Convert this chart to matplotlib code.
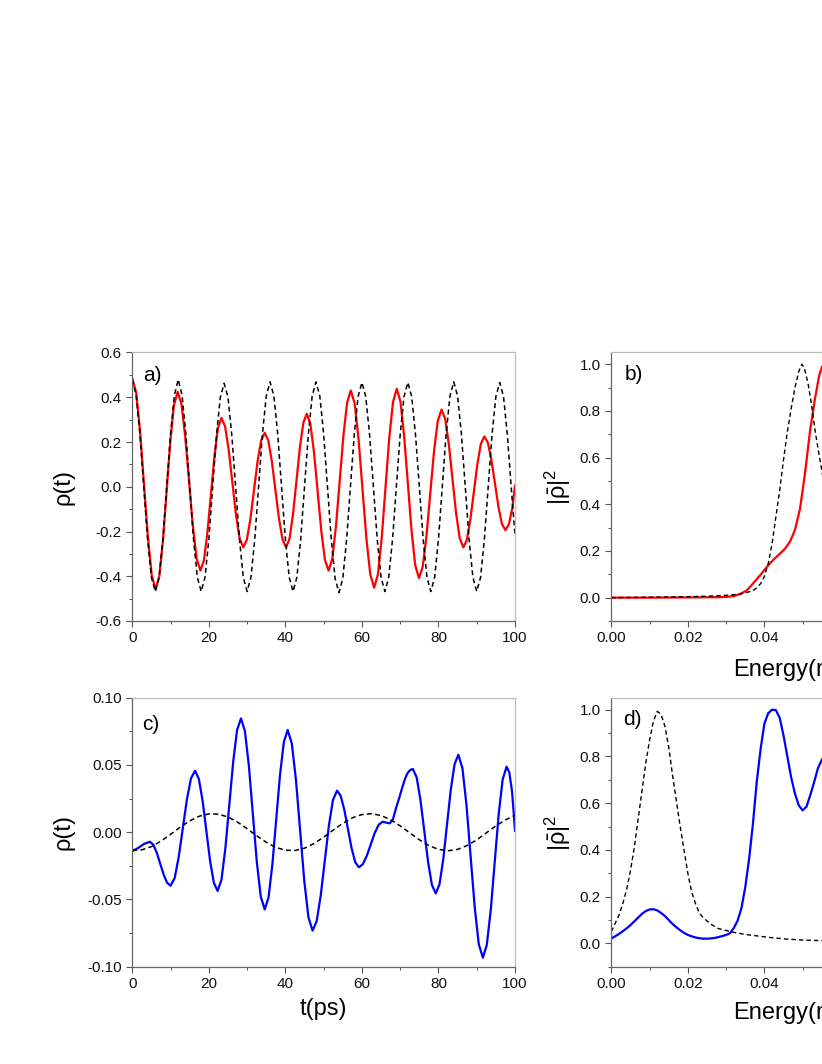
import matplotlib
matplotlib.use("Agg")
import matplotlib.pyplot as plt
import numpy as np
from matplotlib.ticker import MultipleLocator, FormatStrFormatter

plt.rcParams['font.family'] = ['Liberation Sans', 'DejaVu Sans']
plt.rcParams['mathtext.fontset'] = 'custom'
plt.rcParams['mathtext.rm'] = 'Liberation Sans'
plt.rcParams['mathtext.it'] = 'Liberation Sans'
plt.rcParams['mathtext.default'] = 'rm'
plt.rcParams['axes.unicode_minus'] = False

# ---- panel a: rho(t), red solid + black dashed reference ----
t_red_a = [0, 1.02, 2.03, 3.05, 4.07, 5.08,
           6.1, 7.06, 8.02, 8.98, 9.93, 10.89,
           11.85, 12.84, 13.83, 14.83, 15.82, 16.81,
           17.8, 18.72, 19.63, 20.55, 21.47, 22.38,
           23.3, 24.25, 25.2, 26.15, 27.1, 28.05,
           29.0, 29.93, 30.87, 31.8, 32.73, 33.67,
           34.6, 35.53, 36.47, 37.4, 38.33, 39.27,
           40.2, 41.1, 42.0, 42.9, 43.8, 44.7,
           45.6, 46.55, 47.5, 48.45, 49.4, 50.35,
           51.3, 52.27, 53.23, 54.2, 55.17, 56.13,
           57.1, 58.12, 59.13, 60.15, 61.17, 62.18,
           63.2, 64.18, 65.17, 66.15, 67.13, 68.12,
           69.1, 70.07, 71.03, 72.0, 72.97, 73.93,
           74.9, 75.88, 76.87, 77.85, 78.83, 79.82,
           80.8, 81.75, 82.7, 83.65, 84.6, 85.55,
           86.5, 87.42, 88.33, 89.25, 90.17, 91.08,
           92.0, 92.92, 93.83, 94.75, 95.67, 96.58,
           97.5, 98.4, 99.3, 100]
rho_red_a = [0.484, 0.421, 0.248, 0.0125, -0.223, -0.396,
             -0.459, -0.400, -0.238, -0.0175, 0.203, 0.365,
             0.424, 0.370, 0.224, 0.0245, -0.175, -0.3215,
             -0.375, -0.329, -0.204, -0.0335, 0.137, 0.262,
             0.308, 0.269, 0.163, 0.0185, -0.126, -0.232,
             -0.271, -0.237, -0.143, -0.015, 0.113, 0.207,
             0.241, 0.207, 0.113, -0.015, -0.143, -0.237,
             -0.271, -0.231, -0.122, 0.0275, 0.177, 0.286,
             0.326, 0.279, 0.151, -0.0245, -0.200, -0.328,
             -0.375, -0.321, -0.174, 0.0275, 0.229, 0.376,
             0.430, 0.371, 0.210, -0.0105, -0.231, -0.392,
             -0.451, -0.391, -0.229, -0.0065, 0.216, 0.378,
             0.438, 0.381, 0.2265, 0.015, -0.1965, -0.351,
             -0.408, -0.3575, -0.220, -0.0315, 0.157, 0.2945,
             0.345, 0.304, 0.191, 0.037, -0.117, -0.230,
             -0.271, -0.238, -0.147, -0.023, 0.101, 0.192,
             0.225, 0.197, 0.120, 0.0155, -0.089, -0.166,
             -0.194, -0.168, -0.095, 0.005]

t_dash_a = np.arange(0, 101)
rho_dash_a = [0.48, 0.41, 0.235, 0.0, -0.235, -0.405, -0.468, -0.405, -0.235, 0.0, 0.235, 0.41,
              0.479, 0.41, 0.235, 0.0, -0.235, -0.405, -0.468, -0.405, -0.235, 0.0, 0.23, 0.40,
              0.462, 0.40, 0.23, 0.0, -0.235, -0.405, -0.468, -0.405, -0.235, 0.0, 0.235, 0.405,
              0.469, 0.405, 0.235, 0.0, -0.235, -0.405, -0.468, -0.405, -0.235, 0.0, 0.235, 0.405,
              0.469, 0.405, 0.235, 0.0, -0.236, -0.41, -0.473, -0.41, -0.236, 0.0, 0.233, 0.403,
              0.466, 0.403, 0.233, 0.0, -0.235, -0.405, -0.468, -0.405, -0.235, 0.0, 0.233, 0.403,
              0.466, 0.403, 0.233, 0.0, -0.235, -0.405, -0.468, -0.405, -0.235, 0.0, 0.235, 0.405,
              0.469, 0.405, 0.235, 0.0, -0.235, -0.405, -0.468, -0.405, -0.235, 0.0, 0.233, 0.403,
              0.466, 0.403, 0.233, 0.0, -0.215]

# ---- panel b: |rho|^2 vs energy ----
e_red_b = [0.0, 0.010, 0.020, 0.028, 0.030, 0.032, 0.0336, 0.0354, 0.037, 0.0389,
           0.0406, 0.0424, 0.0441, 0.0454, 0.0467, 0.048, 0.0493, 0.0506, 0.0519,
           0.0532, 0.0543, 0.0551, 0.0558, 0.057]
p_red_b = [0.0, 0.0, 0.001, 0.002, 0.003, 0.007, 0.015, 0.031, 0.06, 0.096,
           0.131, 0.163, 0.189, 0.21, 0.24, 0.29, 0.38, 0.53, 0.71,
           0.85, 0.95, 0.99, 1.0, 0.99]
e_dash_b = [0.0, 0.010, 0.020, 0.025, 0.030, 0.033, 0.035, 0.037, 0.038, 0.039,
            0.040, 0.041, 0.042, 0.043, 0.044, 0.045, 0.046, 0.047, 0.048, 0.049,
            0.0498, 0.0505, 0.0515, 0.0524, 0.0533, 0.0541, 0.055, 0.0558]
p_dash_b = [0.0, 0.002, 0.004, 0.006, 0.010, 0.014, 0.020, 0.030, 0.042, 0.060,
            0.090, 0.146, 0.23, 0.345, 0.46, 0.59, 0.71, 0.81, 0.90, 0.97,
            1.0, 0.98, 0.91, 0.817, 0.71, 0.631, 0.546, 0.46]

# ---- panel c: rho(t), blue solid + black dashed ----
t_blue_c = [0, 1.5, 3.0,
            4.6, 5.5, 6.4, 7.3, 8.2, 9.1,
            10.0, 11.07, 12.13, 13.2, 14.27, 15.33,
            16.4, 17.38, 18.37, 19.35, 20.33, 21.32,
            22.3, 23.32, 24.33, 25.35, 26.37, 27.38,
            28.4, 29.43, 30.47, 31.5, 32.53, 33.57,
            34.6, 35.6, 36.6, 37.6, 38.6, 39.6,
            40.6, 41.68, 42.77, 43.85, 44.93, 46.02,
            47.1, 48.17, 49.23, 50.3, 51.37, 52.43,
            53.5, 54.45, 55.4, 56.35, 57.3, 58.25,
            59.2, 60.23, 61.27, 62.3, 63.33, 64.37,
            65.4, 66.4,
            67.3, 68.1, 68.9, 69.8, 70.6, 71.3, 71.9, 72.6,
            73.3, 74.3, 75.3, 76.3, 77.3, 78.3,
            79.3, 80.28, 81.27, 82.25, 83.23, 84.22,
            85.2, 86.27, 87.33, 88.4, 89.47, 90.53,
            91.6, 92.63, 93.67, 94.7, 95.73, 96.77,
            97.8, 98.5, 99.2, 99.7, 100]
rho_blue_c = [-0.014, -0.0118, -0.0088,
              -0.0071, -0.0093, -0.0153, -0.0235, -0.0316, -0.0376,
              -0.0398, -0.0341, -0.0184, 0.0030, 0.0243, 0.0400,
              0.0457, 0.0397, 0.0234, 0.0010, -0.0214, -0.0377,
              -0.0437, -0.0351, -0.0116, 0.0205, 0.0525, 0.0760,
              0.0846, 0.0751, 0.0491, 0.0136, -0.0219, -0.0479,
              -0.0574, -0.0485, -0.0240, 0.0093, 0.0427, 0.0671,
              0.0760, 0.0660, 0.0387, 0.0014, -0.0359, -0.0632,
              -0.0732, -0.0662, -0.0472, -0.0212, 0.0049, 0.0239,
              0.0309, 0.0271, 0.0167, 0.0024, -0.0119, -0.0223,
              -0.0261, -0.0238, -0.0176, -0.0092, -0.0007, 0.0055,
              0.0078, 0.0071,
              0.0066, 0.0095, 0.0178, 0.0260, 0.0338, 0.0400, 0.0438, 0.0462,
              0.0470, 0.0408, 0.0239, 0.0008, -0.0224, -0.0393,
              -0.0455, -0.0386, -0.0197, 0.0061, 0.0318, 0.0507,
              0.0576, 0.0475, 0.0199, -0.0179, -0.0556, -0.0832,
              -0.0933, -0.0838, -0.0578, -0.0223, 0.0132, 0.0392,
              0.0487, 0.0445, 0.031, 0.013, 0.001]

t_dash_c = np.arange(0, 100.1, 2.5)
rho_dash_c = [-0.0136, -0.0131, -0.0107, -0.0066, -0.0016, 0.0037, 0.0084, 0.0119,
              0.0136, 0.0134, 0.0113, 0.0075, 0.0026, -0.0026, -0.0075, -0.0113,
              -0.0134, -0.0136, -0.0119, -0.0084, -0.0037, 0.0016, 0.0066, 0.0107,
              0.0131, 0.0138, 0.0124, 0.0092, 0.0047, -0.0005, -0.0056, -0.0099,
              -0.0128, -0.0138, -0.0128, -0.0099, -0.0057, -0.0005, 0.0047, 0.0092,
              0.0124]

# ---- panel d: |rho|^2 vs energy ----
e_blue_d = [0.000, 0.001, 0.002, 0.003, 0.004, 0.005, 0.006, 0.007, 0.008, 0.009,
            0.010, 0.011, 0.012, 0.013, 0.014, 0.015, 0.016, 0.017, 0.018, 0.019,
            0.020, 0.021, 0.022, 0.023, 0.024, 0.025, 0.026, 0.027, 0.028, 0.029,
            0.030, 0.031, 0.032, 0.033, 0.034, 0.035, 0.036, 0.037, 0.038, 0.039,
            0.040, 0.041, 0.042, 0.043, 0.044, 0.045, 0.046, 0.047, 0.048, 0.049,
            0.050, 0.051, 0.052, 0.053, 0.054, 0.055, 0.056]
p_blue_d = [0.021, 0.030, 0.040, 0.052, 0.064, 0.078, 0.094, 0.110, 0.126, 0.138,
            0.145, 0.146, 0.141, 0.130, 0.117, 0.100, 0.083, 0.069, 0.056, 0.045,
            0.036, 0.030, 0.025, 0.022, 0.020, 0.020, 0.021, 0.023, 0.027, 0.031,
            0.036, 0.043, 0.065, 0.097, 0.15, 0.24, 0.36, 0.51, 0.69, 0.83,
            0.94, 0.985, 1.0, 0.998, 0.965, 0.89, 0.80, 0.71, 0.64, 0.59,
            0.569, 0.585, 0.635, 0.69, 0.75, 0.785, 0.81]
e_dash_d = [0.000, 0.001, 0.002, 0.003, 0.004, 0.005, 0.006, 0.007, 0.008, 0.009,
            0.010, 0.011, 0.012, 0.013, 0.014, 0.015, 0.016, 0.017, 0.018, 0.019,
            0.020, 0.021, 0.022, 0.023, 0.024, 0.026, 0.028, 0.030, 0.032, 0.035,
            0.038, 0.042, 0.046, 0.050, 0.056]
p_dash_d = [0.05, 0.085, 0.12, 0.17, 0.23, 0.31, 0.41, 0.53, 0.65, 0.77,
            0.87, 0.95, 0.993, 0.98, 0.93, 0.84, 0.72, 0.61, 0.50, 0.40,
            0.30, 0.22, 0.17, 0.13, 0.11, 0.082, 0.063, 0.055, 0.047, 0.038,
            0.032, 0.024, 0.018, 0.014, 0.011]

W, H = 822, 1064
fig = plt.figure(figsize=(W / 100, H / 100), dpi=100)


def make_ax(x0, top, bottom, width=382.7):
    # right-hand panels run past the figure edge, as in the cropped original
    return fig.add_axes([x0 / W, 1 - bottom / H, width / W, (bottom - top) / H])


ax_a = make_ax(132.3, 352.5, 621.0)
ax_b = make_ax(611.3, 352.5, 621.0)
ax_c = make_ax(132.3, 697.7, 966.7)
ax_d = make_ax(611.3, 698.0, 966.7)

dash = (0, (3.2, 2.2))

ax_a.plot(t_red_a, rho_red_a, color='#ff0000', lw=1.6)
ax_a.plot(t_dash_a, rho_dash_a, color='black', lw=1.1, ls=dash)
ax_b.plot(e_red_b, p_red_b, color='#ff0000', lw=1.6)
ax_b.plot(e_dash_b, p_dash_b, color='black', lw=1.0, ls=dash)
ax_c.plot(t_blue_c, rho_blue_c, color='#0000ff', lw=1.6)
ax_c.plot(t_dash_c, rho_dash_c, color='black', lw=1.1, ls=dash)
ax_d.plot(e_blue_d, p_blue_d, color='#0000ff', lw=1.6)
ax_d.plot(e_dash_d, p_dash_d, color='black', lw=1.0, ls=dash)

for ax in (ax_a, ax_c):
    ax.set_xlim(0, 100)
    ax.xaxis.set_major_locator(MultipleLocator(20))
    ax.xaxis.set_minor_locator(MultipleLocator(10))
ax_a.set_ylim(-0.6, 0.6)
ax_a.yaxis.set_major_locator(MultipleLocator(0.2))
ax_a.yaxis.set_minor_locator(MultipleLocator(0.1))
ax_a.yaxis.set_major_formatter(FormatStrFormatter('%.1f'))
ax_c.set_ylim(-0.1, 0.1)
ax_c.yaxis.set_major_locator(MultipleLocator(0.05))
ax_c.yaxis.set_minor_locator(MultipleLocator(0.025))
ax_c.yaxis.set_major_formatter(FormatStrFormatter('%.2f'))

for ax in (ax_b, ax_d):
    ax.set_xlim(0, 0.1)
    ax.set_ylim(-0.1, 1.05)
    ax.xaxis.set_major_locator(MultipleLocator(0.02))
    ax.xaxis.set_minor_locator(MultipleLocator(0.01))
    ax.xaxis.set_major_formatter(FormatStrFormatter('%.2f'))
    ax.yaxis.set_major_locator(MultipleLocator(0.2))
    ax.yaxis.set_minor_locator(MultipleLocator(0.1))
    ax.yaxis.set_major_formatter(FormatStrFormatter('%.1f'))

for ax in (ax_a, ax_b, ax_c, ax_d):
    ax.tick_params(which='both', direction='out', top=False, right=False,
                   color='#555555', labelsize=11, labelcolor='#111111')
    ax.tick_params(which='major', length=4.5, width=0.8, pad=3)
    ax.tick_params(which='minor', length=2.5, width=0.7)
    ax.spines['left'].set_color('#666666')
    ax.spines['bottom'].set_color('#666666')
    ax.spines['top'].set_color('#bbbbbb')
    ax.spines['right'].set_color('#bbbbbb')
    for s in ax.spines.values():
        s.set_linewidth(0.9)

ax_a.set_ylabel('ρ(t)', fontsize=17)
ax_c.set_ylabel('ρ(t)', fontsize=17)
ax_b.set_ylabel(r'$|\bar{\rho}|^2$', fontsize=17)
ax_d.set_ylabel(r'$|\bar{\rho}|^2$', fontsize=17)
ax_a.yaxis.set_label_coords(-0.150, 0.5)
ax_c.yaxis.set_label_coords(-0.150, 0.5)
ax_b.yaxis.set_label_coords(-0.100, 0.5)
ax_d.yaxis.set_label_coords(-0.100, 0.5)

ax_c.set_xlabel('t(ps)', fontsize=17)
ax_b.set_xlabel('Energy(meV)', fontsize=17)
ax_d.set_xlabel('Energy(meV)', fontsize=17)
ax_c.xaxis.set_label_coords(0.5, -0.115)
ax_b.xaxis.set_label_coords(0.5, -0.14)
ax_d.xaxis.set_label_coords(0.5, -0.13)

ax_a.text(0.029, 0.95, 'a)', transform=ax_a.transAxes, fontsize=15, va='top')
ax_b.text(0.036, 0.954, 'b)', transform=ax_b.transAxes, fontsize=15, va='top')
ax_c.text(0.026, 0.936, 'c)', transform=ax_c.transAxes, fontsize=15, va='top')
ax_d.text(0.031, 0.954, 'd)', transform=ax_d.transAxes, fontsize=15, va='top')

fig.savefig('out.png', dpi=100)
